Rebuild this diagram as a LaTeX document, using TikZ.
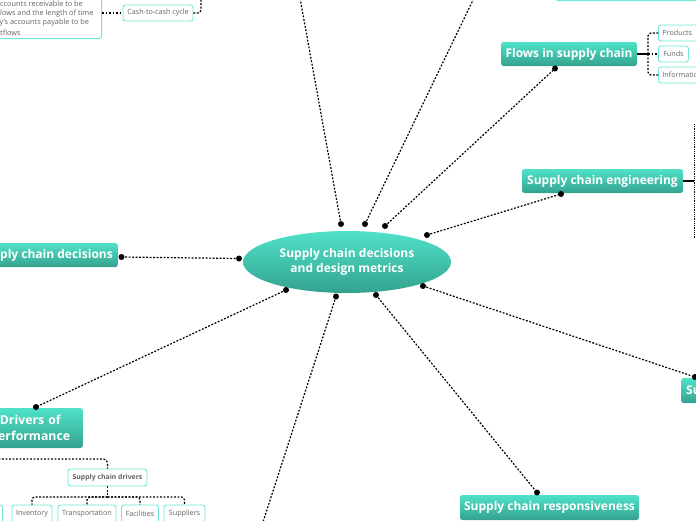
\documentclass[tikz,border=0pt]{standalone}
\usepackage{fontspec}
\setmainfont{Open Sans}
\usetikzlibrary{shapes.geometric}
\definecolor{tealtop}{RGB}{80,226,201}
\definecolor{tealbot}{RGB}{52,162,142}
\definecolor{lineteal}{RGB}{110,232,212}
\definecolor{txtgray}{RGB}{100,100,100}
\tikzset{
  topic/.style={rounded corners=2.5pt, top color=tealtop, bottom color=tealbot, draw=none,
    text=white, font=\fontsize{12}{14.5}\selectfont\bfseries, inner sep=0pt, align=center},
  subbox/.style={rounded corners=2.5pt, draw=lineteal, line width=0.9pt, fill=white,
    text=txtgray, font=\fontsize{7.2}{8.5}\selectfont, inner sep=0pt},
  conn/.style={line width=1.2pt, dash pattern=on 1.9pt off 1.6pt},
  solidconn/.style={line width=1.2pt},
  desctxt/.style={anchor=west, text=txtgray, font=\fontsize{7.35}{9}\selectfont, inner sep=0pt}
}
\begin{document}
\begin{tikzpicture}[x=1pt,y=-1pt]
\useasboundingbox (0,0) rectangle (696,520);
\begin{scope}
\clip (0,0) rectangle (696,520);
% central topic
\node[ellipse, top color=tealtop, bottom color=tealbot, minimum width=208pt, minimum height=62pt,
  text=white, font=\fontsize{12}{15}\selectfont\bfseries, align=center, inner sep=0pt] (center) at (347,262)
  {Supply chain decisions\\and design metrics};
% main topics
\node[topic, minimum width=136pt, minimum height=24pt] (flows) at (569,54) {Flows in supply chain};
\node[topic, minimum width=161pt, minimum height=24pt] (eng) at (602.5,181) {Supply chain engineering};
\node[topic, anchor=east, inner xsep=5pt, minimum height=24pt] (dec) at (118,255) {Supply chain decisions};
\node[topic, anchor=east, inner xsep=0pt, text width=105pt, minimum height=40pt, font=\fontsize{12.3}{16}\selectfont\bfseries] (drv) at (83,428) {Drivers of\\Performance};
\node[topic, minimum width=179pt, minimum height=25pt] (resp) at (549.5,507.5) {Supply chain responsiveness};
\node[topic, anchor=west, inner xsep=5pt, text width=90pt, align=left, minimum height=25pt] (su) at (681,390.5) {Su};
% top-right fragment
\node[subbox, anchor=south west, minimum width=160pt, minimum height=20pt] (topr) at (555,1) {};
% top-left description
\node[subbox, anchor=south east, minimum width=160pt, minimum height=60pt] (desc) at (102,39) {};
\node[desctxt] (d1) at (0,4) {ccounts receivable to be};
\node[desctxt] (d2) at (0,13.5) {lows and the length of time};
\node[desctxt] (d3) at (-0.5,23) {y's accounts payable to be};
\node[desctxt] (d4) at (0,32.5) {tflows};
\node[subbox, minimum width=70pt, minimum height=16pt] (cash) at (158,13) {Cash-to-cash cycle};
\coordinate (cashup) at (201,-10);
\draw[conn] (desc.east |- cash) -- (cash.west);
\draw[conn, rounded corners=3pt] (cash.east) -| (cashup);
% flows sub-items
\node[subbox, anchor=west, minimum width=50pt, minimum height=16pt, text width=44pt, inner xsep=4pt, align=left] (prod) at (658,33) {Products};
\node[subbox, anchor=west, minimum width=30pt, minimum height=16pt] (funds) at (658,54) {Funds};
\node[subbox, anchor=west, minimum width=50pt, minimum height=16pt, text width=48pt, inner xsep=4pt, align=left] (info) at (658,75) {Information};
\coordinate (fj) at (648,54);
\draw[solidconn] (flows.east) -- (fj);
\draw[conn, rounded corners=3pt] (fj) |- (prod.west);
\draw[conn, rounded corners=3pt] (fj) |- (info.west);
\draw[conn] (fj) -- (funds.west);
% engineering branch
\coordinate (ej) at (694,181);
\coordinate (et) at (694,124);
\coordinate (eb) at (694,238);
\draw[solidconn] (eng.east) -- (ej);
\draw[line width=1pt, dash pattern=on 1pt off 0.8pt] (et) -- (eb);
% drivers subtree
\node[subbox, minimum width=79pt, minimum height=17pt, font=\fontsize{6.9}{8}\selectfont\bfseries] (scd) at (107.5,477.5) {Supply chain drivers};
\coordinate (dstart) at (-5,459);
\draw[conn, rounded corners=4pt] (dstart) -| (scd.north);
\node[subbox, anchor=north, minimum width=40pt, minimum height=18pt] (inv) at (32,504.5) {Inventory};
\node[subbox, anchor=north, minimum width=58pt, minimum height=18pt] (trans) at (87,504.5) {Transportation};
\node[subbox, anchor=north, minimum width=37pt, minimum height=18pt] (fac) at (140,504.5) {Facilities};
\node[subbox, anchor=north, minimum width=41pt, minimum height=18pt] (sup) at (184.5,504.5) {Suppliers};
\node[subbox, anchor=north east, minimum width=40pt, minimum height=18pt] (leftbox) at (3,504.5) {};
\coordinate (dj) at (107.5,497);
\draw[conn] (scd.south) -- (dj);
\draw[conn, rounded corners=3pt] (dj) -| (inv.north);
\draw[conn, rounded corners=3pt] (dj) -| (trans.north);
\draw[conn, rounded corners=3pt] (dj) -| (fac.north);
\draw[conn, rounded corners=3pt] (dj) -| (sup.north);
% connector end points
\coordinate (c1) at (341,224);  \coordinate (t1) at (300,-2);
\coordinate (c2) at (365,224);  \coordinate (t2) at (474,-2);
\coordinate (c3) at (385,226);  \coordinate (t3) at (555,68.5);
\coordinate (c4) at (427,235);  \coordinate (t4) at (561,194);
\coordinate (c5) at (239,258.5);\coordinate (t5) at (121.5,257);
\coordinate (c6) at (286,290);  \coordinate (t6) at (36,407);
\coordinate (c7) at (336,296.5);\coordinate (t7) at (263,522);
\coordinate (c8) at (376,295);  \coordinate (t8) at (537,492.5);
\coordinate (c9) at (423,286);  \coordinate (t9) at (695,377);
\foreach \i in {1,...,9} {\draw[conn] (c\i) -- (t\i);}
\foreach \p in {c1,c2,c3,c4,c5,c6,c7,c8,c9,t3,t4,t5,t6,t8,t9} {\fill (\p) circle (3pt);}
\end{scope}
\end{tikzpicture}
\end{document}
